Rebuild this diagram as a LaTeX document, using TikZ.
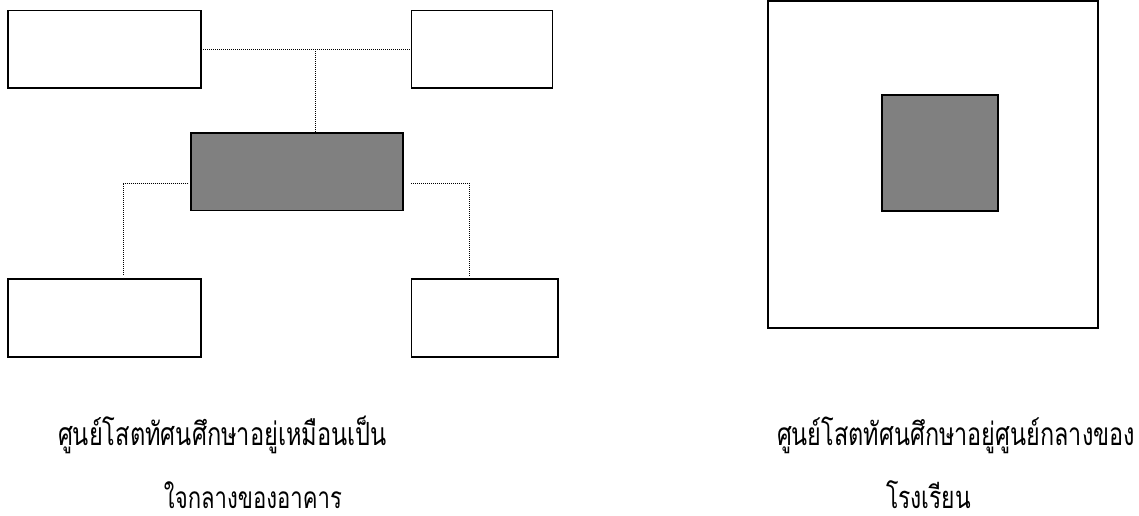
\documentclass[tikz,border=0pt]{standalone}
\usepackage{fontspec}
\usepackage{graphicx}
\newfontfamily\thaifont[Script=Thai]{Loma}
\definecolor{boxgray}{RGB}{128,128,128}
\tikzset{
  blk/.style={draw=black, line width=1.2pt, fill=white, inner sep=0pt, minimum height=58.3pt},
  core/.style={blk, fill=boxgray},
  dotline/.style={line width=0.75pt, dash pattern=on 0.75pt off 0.75pt},
  caption/.style={font=\thaifont\fontsize{20pt}{24pt}\selectfont, inner sep=0pt, anchor=base}
}
\newcommand{\fitcap}[2]{\scalebox{1}[1.35]{\resizebox{#1}{!}{#2}}}
\begin{document}
\begin{tikzpicture}[x=0.75pt,y=-0.75pt]
\useasboundingbox (0,0) rectangle (1139,515);
% left diagram
\node[blk, minimum width=144.9pt] (tl) at (104.5,49.2) {};
\node[blk, minimum width=105.8pt] (tr) at (482,49.2) {};
\node[core, minimum width=159.1pt] (c) at (297.1,171.8) {};
\node[blk, minimum width=144.9pt] (bl) at (104.5,317.9) {};
\node[blk, minimum width=109.9pt] (br) at (484.6,317.9) {};
\coordinate (j) at (315.7,49.3);
\draw[dotline] ([xshift=1pt]tl.east) -- ([xshift=-1pt]tr.west);
\draw[dotline] (j) -- (j |- c.north);
\draw[dotline] ([xshift=-1.4pt]c.west |- 0,183.3) -| ([yshift=2pt]bl.north -| 123.2,0);
\draw[dotline] ([xshift=5.5pt]c.east |- 0,183.3) -| ([yshift=2pt]br.north -| 469.6,0);
% right diagram
\node[blk, minimum width=247.5pt, minimum height=245.25pt] (outer) at (932.7,164.6) {};
\node[core, minimum width=87pt, minimum height=87pt] (inner) at (940,153) {};
% captions
\node[caption] (l1) at (222.5,445) {\fitcap{246.75pt}{ศูนย์โสตทัศนศึกษาอยู่เหมือนเป็น}};
\node[caption] (l2) at (253,508) {\fitcap{133.5pt}{ใจกลางของอาคาร}};
\node[caption] (r1) at (956,445) {\fitcap{268.5pt}{ศูนย์โสตทัศนศึกษาอยู่ศูนย์กลางของ}};
\node[caption] (r2) at (928.5,508) {\fitcap{63.75pt}{โรงเรียน}};
\end{tikzpicture}
\end{document}
